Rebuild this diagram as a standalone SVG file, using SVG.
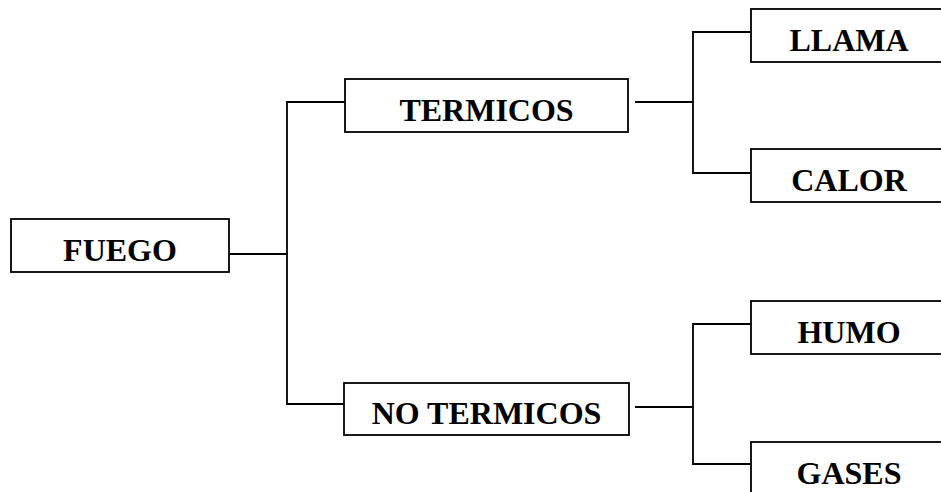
<svg xmlns="http://www.w3.org/2000/svg" width="941" height="492" viewBox="0 0 941 492">
<style>
.box{fill:#fff;stroke:#000;stroke-width:1.8}
.lbl{font-family:"Liberation Serif","Times New Roman",serif;font-weight:bold;font-size:32px;fill:#000;text-anchor:middle}
.conn{fill:none;stroke:#000;stroke-width:1.8}
</style>
<rect width="941" height="492" fill="#fff"/>
<g id="connectors">
<polyline class="conn" points="229,254 287,254"/>
<polyline class="conn" points="345,102 287,102 287,404 344,404"/>
<polyline class="conn" points="635,102 693,102"/>
<polyline class="conn" points="751,32 693,32 693,173 751,173"/>
<polyline class="conn" points="635,407 693,407"/>
<polyline class="conn" points="751,324 693,324 693,464 751,464"/>
</g>
<g id="fuego">
<rect class="box" x="11" y="219" width="218" height="53"/>
<text class="lbl" x="120" y="261">FUEGO</text>
</g>
<g id="termicos">
<rect class="box" x="345" y="79" width="283" height="53"/>
<text class="lbl" x="486.5" y="121">TERMICOS</text>
</g>
<g id="no-termicos">
<rect class="box" x="344" y="383" width="285" height="52"/>
<text class="lbl" x="486.5" y="424">NO TERMICOS</text>
</g>
<g id="llama">
<rect class="box" x="751" y="9" width="196" height="53"/>
<text class="lbl" x="849" y="51">LLAMA</text>
</g>
<g id="calor">
<rect class="box" x="751" y="149" width="196" height="53"/>
<text class="lbl" x="849" y="191">CALOR</text>
</g>
<g id="humo">
<rect class="box" x="751" y="301" width="196" height="53"/>
<text class="lbl" x="849" y="343">HUMO</text>
</g>
<g id="gases">
<rect class="box" x="751" y="442" width="196" height="53"/>
<text class="lbl" x="849" y="484">GASES</text>
</g>
</svg>
